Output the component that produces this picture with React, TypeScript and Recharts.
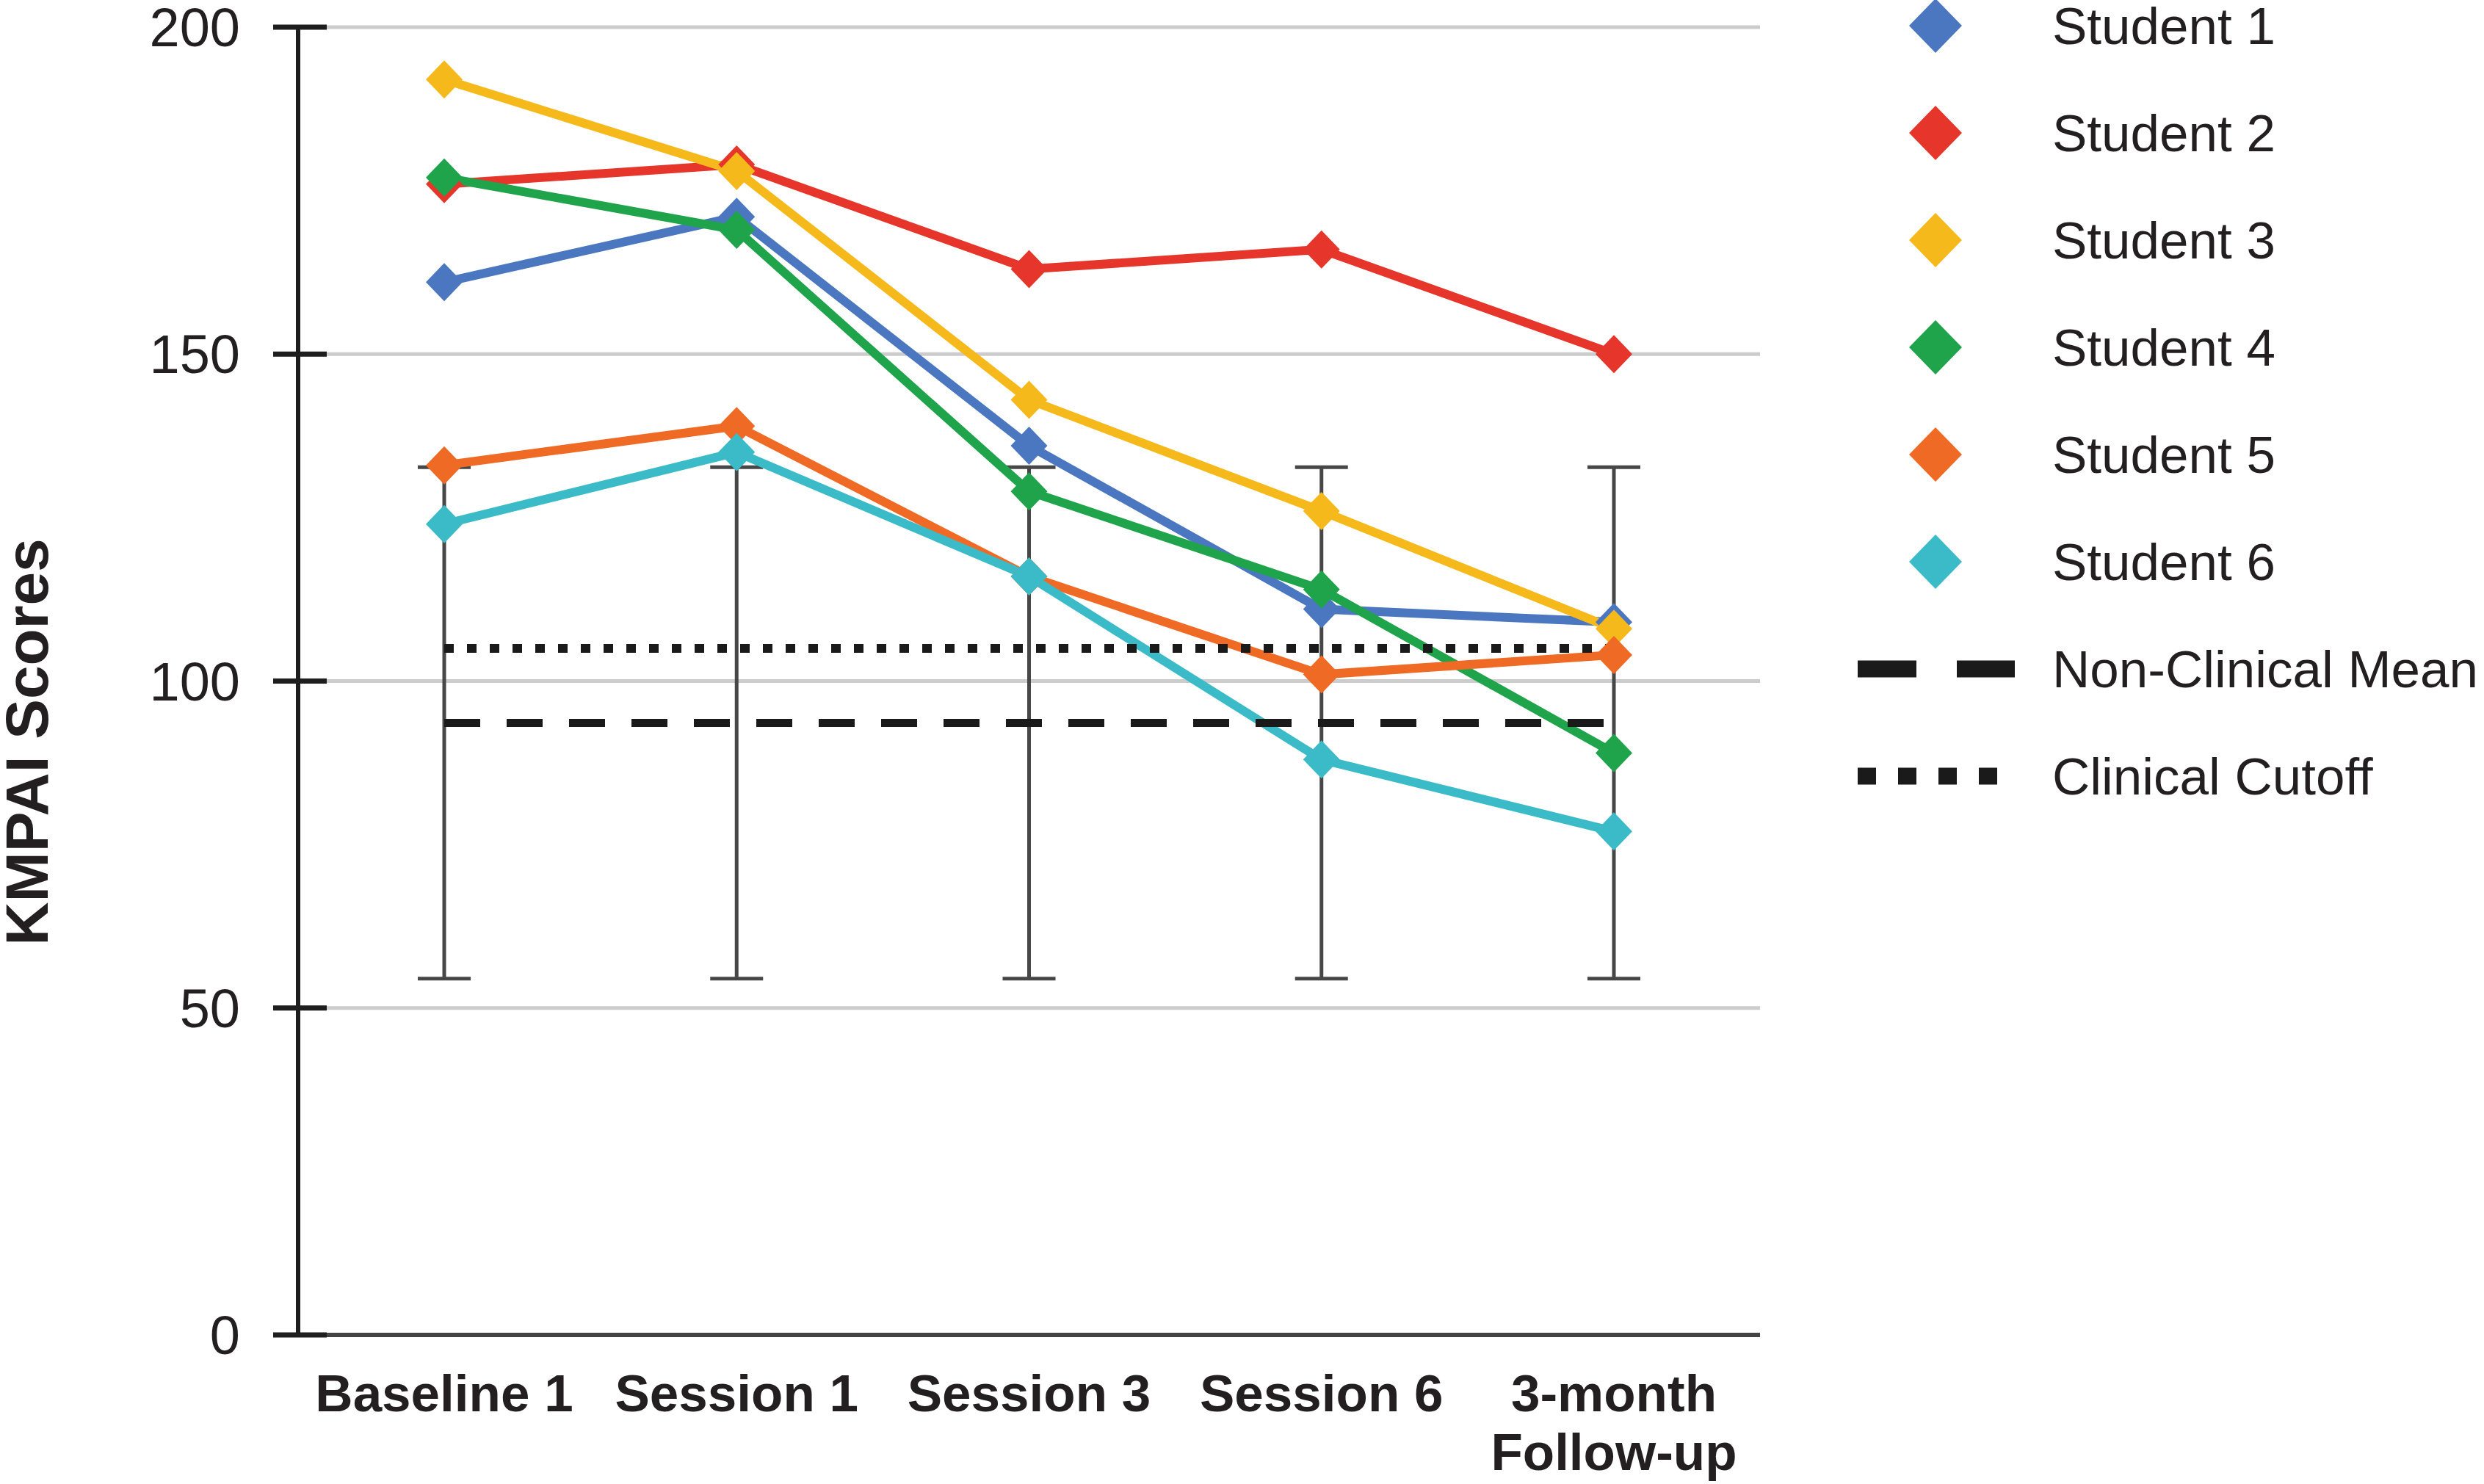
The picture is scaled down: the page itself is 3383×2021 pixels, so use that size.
import { CartesianGrid, ComposedChart, ErrorBar, Line, XAxis, YAxis } from 'recharts'

const sessions = ['Baseline 1', 'Session 1', 'Session 3', 'Session 6', '3-month Follow-up']
const sessionLines = [['Baseline 1'], ['Session 1'], ['Session 3'], ['Session 6'], ['3-month', 'Follow-up']]

const student1 = [161, 171, 136, 111, 109]
const student2 = [176, 179, 163, 166, 150]
const student3 = [192, 178, 143, 126, 108]
const student4 = [177, 169, 129, 114, 89]
const student5 = [133, 139, 116, 101, 104]
const student6 = [124, 135, 116, 88, 77]

const nonClinicalMean = [93.6, 93.6, 93.6, 93.6, 93.6]
const nonClinicalSD = [39.1, 39.1, 39.1, 39.1, 39.1]
const clinicalCutoff = [105, 105, 105, 105, 105]

const yTicks = [0, 50, 100, 150, 200]

const students = [
  { key: 's1', name: 'Student 1', color: '#4a77bf', values: student1 },
  { key: 's2', name: 'Student 2', color: '#e6352a', values: student2 },
  { key: 's3', name: 'Student 3', color: '#f6b91c', values: student3 },
  { key: 's4', name: 'Student 4', color: '#1fa44b', values: student4 },
  { key: 's5', name: 'Student 5', color: '#ef6a24', values: student5 },
  { key: 's6', name: 'Student 6', color: '#3bbbc7', values: student6 },
]

const data = sessions.map((session, i) => {
  const row: Record<string, number | string> = {
    session,
    errCenter: nonClinicalMean[i],
    sd: nonClinicalSD[i],
    mean: nonClinicalMean[i],
    cutoff: clinicalCutoff[i],
  }
  students.forEach((s) => (row[s.key] = s.values[i]))
  return row
})

const W = 3383
const H = 2021
const FONT = '"Liberation Sans", Arial, Helvetica, sans-serif'
const INK = '#231f20'

function diamond(color: string) {
  return (props: any) => {
    const { cx, cy, index } = props
    if (cx == null || cy == null) return <g key={index} />
    return (
      <path
        key={index}
        d={`M${cx},${cy - 26}L${cx + 25},${cy}L${cx},${cy + 26}L${cx - 25},${cy}Z`}
        fill={color}
      />
    )
  }
}

function XTick(props: any) {
  const { x, y, payload } = props
  const lines = sessionLines[sessions.indexOf(payload.value)] ?? [payload.value]
  return (
    <text x={x} textAnchor="middle" fontFamily={FONT} fontWeight="bold" fontSize={71} fill={INK}>
      {lines.map((l: string, i: number) => (
        <tspan key={i} x={x} y={y + 104 + i * 80}>
          {l}
        </tspan>
      ))}
    </text>
  )
}

function YTick(props: any) {
  const { x, y, payload } = props
  return (
    <g>
      <line x1={x - 34} x2={x + 39} y1={y} y2={y} stroke="#1e1e1e" strokeWidth={7} />
      <text x={x - 79} y={y + 26} textAnchor="end" fontFamily={FONT} fontSize={74} fill={INK}>
        {payload.value}
      </text>
    </g>
  )
}

function AxisTitle(props: any) {
  const vb = props.viewBox ?? { x: 0, y: 37, width: 406, height: 1781 }
  const tx = vb.x + 65
  const ty = vb.y + vb.height / 2 + 83
  return (
    <text
      x={tx}
      y={ty}
      transform={`rotate(-90, ${tx}, ${ty})`}
      textAnchor="middle"
      fontFamily={FONT}
      fontWeight="bold"
      fontSize={82}
      fill={INK}
    >
      KMPAI Scores
    </text>
  )
}

function LegendPanel() {
  const rowY = (i: number) => 35 + i * 146
  return (
    <svg width={W} height={H} style={{ position: 'absolute', left: 0, top: 0, pointerEvents: 'none' }}>
      {students.map((s, i) => (
        <g key={s.key}>
          <path
            d={`M2636,${rowY(i) - 37}L2672,${rowY(i)}L2636,${rowY(i) + 37}L2600,${rowY(i)}Z`}
            fill={s.color}
          />
          <text x={2795} y={rowY(i) + 25} fontFamily={FONT} fontSize={71} fill={INK}>
            {s.name}
          </text>
        </g>
      ))}
      <line x1={2530} x2={2744} y1={rowY(6)} y2={rowY(6)} stroke="#1a1a1a" strokeWidth={23} strokeDasharray="80 55" />
      <text x={2795} y={rowY(6) + 25} fontFamily={FONT} fontSize={71} fill={INK}>
        Non-Clinical Mean
      </text>
      <line x1={2530} x2={2720} y1={rowY(7)} y2={rowY(7)} stroke="#1a1a1a" strokeWidth={23} strokeDasharray="25 30" />
      <text x={2795} y={rowY(7) + 25} fontFamily={FONT} fontSize={71} fill={INK}>
        Clinical Cutoff
      </text>
    </svg>
  )
}

export default function App() {
  return (
    <div style={{ position: 'relative', width: W, height: H, background: '#fff' }}>
      <style>{'body{margin:0}'}</style>
      <ComposedChart width={W} height={H} data={data} margin={{ top: 37, right: 986, bottom: 0, left: 0 }}>
        <CartesianGrid vertical={false} stroke="#cccccc" strokeWidth={5} />
        <XAxis
          dataKey="session"
          height={203}
          interval={0}
          padding={{ left: 199, right: 199 }}
          axisLine={{ stroke: '#444444', strokeWidth: 6 }}
          tickLine={false}
          tickSize={0}
          tickMargin={0}
          tick={<XTick />}
        />
        <YAxis
          domain={[0, 200]}
          ticks={yTicks}
          width={406}
          axisLine={{ stroke: '#1e1e1e', strokeWidth: 6 }}
          tickLine={false}
          tickSize={0}
          tickMargin={0}
          tick={<YTick />}
          label={<AxisTitle />}
        />
        <Line dataKey="errCenter" stroke="none" dot={false} activeDot={false} isAnimationActive={false}>
          <ErrorBar dataKey="sd" direction="y" width={36} strokeWidth={5} stroke="#474747" isAnimationActive={false} />
        </Line>
        {students.map((s) => (
          <Line
            key={s.key}
            dataKey={s.key}
            name={s.name}
            stroke={s.color}
            strokeWidth={12}
            dot={diamond(s.color)}
            activeDot={false}
            isAnimationActive={false}
          />
        ))}
        <Line
          dataKey="cutoff"
          stroke="#1a1a1a"
          strokeWidth={12}
          strokeDasharray="13 18"
          dot={false}
          activeDot={false}
          isAnimationActive={false}
        />
        <Line
          dataKey="mean"
          stroke="#1a1a1a"
          strokeWidth={11}
          strokeDasharray="49 36"
          dot={false}
          activeDot={false}
          isAnimationActive={false}
        />
      </ComposedChart>
      <LegendPanel />
    </div>
  )
}
